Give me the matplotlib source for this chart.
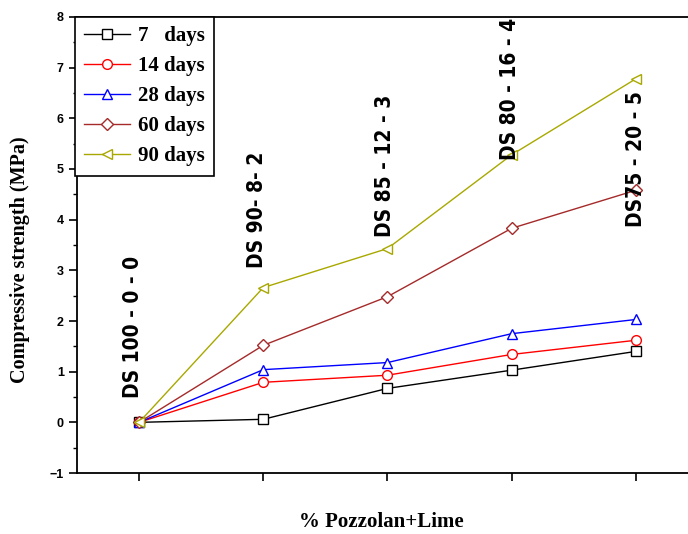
import matplotlib
matplotlib.use("Agg")
import matplotlib.pyplot as plt
from matplotlib.ticker import MultipleLocator

# mix proportions (x positions 1..5)
mixes = ["DS 100 - 0 - 0", "DS 90- 8- 2", "DS 85 - 12 - 3", "DS 80 - 16 - 4", "DS75 - 20 - 5"]
x_pos = [1, 2, 3, 4, 5]

# compressive strength (MPa) per curing age
days_7 = [0.0, 0.06, 0.67, 1.03, 1.40]
days_14 = [0.0, 0.79, 0.93, 1.34, 1.62]
days_28 = [0.0, 1.04, 1.18, 1.75, 2.03]
days_60 = [0.0, 1.52, 2.48, 3.83, 4.58]
days_90 = [0.0, 2.66, 3.43, 5.28, 6.78]

series = [
    ("7   days", days_7, "black", "s"),
    ("14 days", days_14, "red", "o"),
    ("28 days", days_28, "blue", "^"),
    ("60 days", days_60, "#a52a2a", "D"),
    ("90 days", days_90, "#a8a800", "<"),
]

# where the mix labels sit (x, bottom of rotated text)
label_x = [0.95, 1.95, 2.98, 3.99, 5.0]
label_y = [0.49, 3.04, 3.65, 5.17, 3.85]

fig = plt.figure(figsize=(6.88, 5.34), dpi=100)
ax = fig.add_axes([0.1119, 0.1142, 0.9026, 0.854])

for name, vals, col, mk in series:
    ax.plot(x_pos, vals, color=col, marker=mk, markersize=7 if mk != "D" else 6.5,
            markerfacecolor="white", markeredgecolor=col, markeredgewidth=1.0,
            linewidth=1.0, label=name)

for txt, lx, ly in zip(mixes, label_x, label_y):
    ax.text(lx, ly, txt, rotation=90, ha="center", va="bottom",
            fontsize=15, fontweight="bold", family="DejaVu Sans",
            fontstretch="condensed")

ax.set_xlim(0.5, 5.5)
ax.set_ylim(-1, 8)
ax.set_xticks(x_pos)
ax.set_xticklabels([])
ax.yaxis.set_major_locator(MultipleLocator(1))
ax.yaxis.set_minor_locator(MultipleLocator(0.5))
ax.tick_params(axis="both", which="major", direction="out", length=6, width=1.2)
ax.tick_params(axis="y", which="minor", direction="out", length=3, width=1.0)
for lab in ax.get_yticklabels():
    lab.set_fontweight("bold")
    lab.set_fontsize(9)
    lab.set_family("Liberation Sans")
ax.spines["right"].set_visible(False)
for s in ["left", "bottom", "top"]:
    ax.spines[s].set_linewidth(1.3)

ax.set_ylabel("Compressive strength (MPa)", fontsize=14.5, fontweight="bold",
              family="Liberation Serif")
ax.yaxis.set_label_coords(-0.076, 0.467)
ax.set_xlabel("% Pozzolan+Lime", fontsize=15, fontweight="bold",
              family="Liberation Serif")
ax.xaxis.set_label_coords((381 - 77) / 621, -0.085)

leg = ax.legend(loc="upper left", bbox_to_anchor=(-0.003, 1.0), frameon=True,
                fancybox=False, edgecolor="black", framealpha=1,
                prop={"family": "Liberation Serif", "weight": "bold", "size": 15},
                handlelength=2.2, handletextpad=0.35, labelspacing=0.48,
                borderpad=0.45, borderaxespad=0.0)
leg.get_frame().set_linewidth(1.2)

fig.savefig("out.png", dpi=100)
